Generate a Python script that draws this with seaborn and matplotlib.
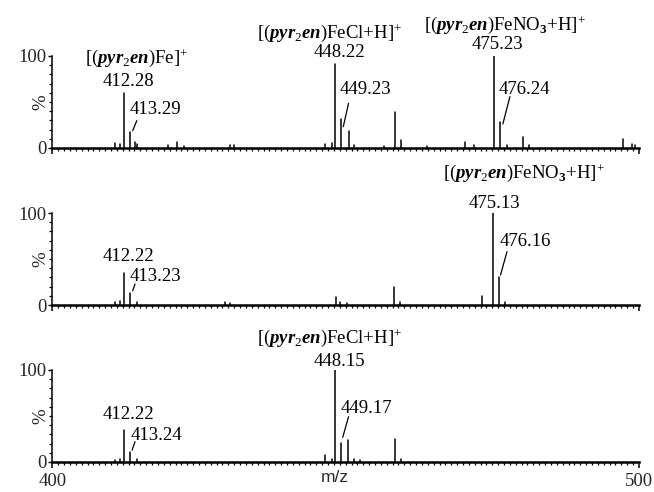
import numpy as np
import pandas as pd
import matplotlib
matplotlib.use("Agg")
import matplotlib.pyplot as plt
from matplotlib.ticker import MultipleLocator, FixedLocator
import seaborn as sns

# ---------------- data (m/z, relative intensity %) ----------------
p1_mz = [410.6, 411.5, 412.28, 413.29, 414.1, 414.5, 419.8, 421.2, 422.4, 430.3, 431.0,
         446.5, 447.6, 448.22, 449.23, 450.5, 451.4, 456.5, 458.4, 459.4, 463.8, 470.3,
         471.9, 475.23, 476.24, 477.5, 480.3, 481.2, 497.3, 498.8, 499.3]
p1_int = [5, 4, 60, 17, 7, 4, 3, 7, 2, 3, 3,
          4, 5, 91, 31, 18, 3, 2, 39, 9, 2, 7,
          3, 100, 28, 3, 12, 3, 10, 4, 3]

p2_mz = [410.6, 411.5, 412.22, 413.23, 414.5, 429.5, 430.3,
         448.3, 449.0, 450.2, 458.2, 459.3, 473.3, 475.13, 476.16, 477.2]
p2_int = [3, 4, 35, 13, 3, 3, 2,
          9, 3, 2, 20, 3, 10, 100, 31, 3]

p3_mz = [410.6, 411.5, 412.22, 413.24, 414.5, 446.4, 447.6, 448.15, 449.17, 450.4,
         451.4, 452.5, 458.4, 459.4]
p3_int = [2, 3, 35, 11, 3, 8, 3, 100, 21, 24,
          3, 2, 25, 3]

# annotations: (text, x, y) in data coordinates of each panel
FE = r"[($\mathit{pyr}_{\mathit{2}}\mathit{en}$)Fe]$^{+}$"
FECL = r"[($\mathit{pyr}_{\mathit{2}}\mathit{en}$)FeCl+H]$^{+}$"
FENO3 = r"[($\mathit{pyr}_{\mathit{2}}\mathit{en}$)FeNO$_{\mathbf{3}}$+H]$^{+}$"

p1_labels = [(FE, 414.4, 97.8), ("412.28", 412.9, 72.8), ("413.29", 417.6, 41.3),
             (FECL, 447.3, 125.0), ("448.22", 448.9, 103.3), ("449.23", 453.3, 64.1),
             (FENO3, 477.2, 133.7), ("475.23", 475.8, 112.0), ("476.24", 480.4, 64.1)]
p1_leaders = [((414.4, 29.7), (413.7, 18.8)), ((450.5, 48.6), (449.6, 23.2)),
              ((478.0, 55.8), (476.8, 26.1))]

p2_labels = [("412.22", 412.9, 52.5), ("413.23", 417.6, 30.8),
             (FENO3, 480.4, 143.5), ("475.13", 475.3, 110.9), ("476.16", 480.6, 68.8)]
p2_leaders = [((414.1, 22.8), (413.7, 15.5)), ((477.5, 58.0), (476.4, 32.6))]

p3_labels = [(FECL, 447.3, 134.8), ("448.15", 448.9, 109.0), ("449.17", 453.6, 58.4),
             ("412.22", 412.9, 51.1), ("413.24", 417.7, 29.3)]
p3_leaders = [((450.5, 49.2), (449.5, 26.8)), ((414.1, 22.1), (413.6, 13.0))]

panels = [(p1_mz, p1_int, p1_labels, p1_leaders),
          (p2_mz, p2_int, p2_labels, p2_leaders),
          (p3_mz, p3_int, p3_labels, p3_leaders)]

# ---------------- style ----------------
sns.set_theme(style="ticks")
plt.rcParams["font.family"] = ["Liberation Serif", "DejaVu Serif"]
plt.rcParams["mathtext.fontset"] = "custom"
plt.rcParams["mathtext.rm"] = "Liberation Serif"
plt.rcParams["mathtext.it"] = "Liberation Serif:italic:bold"
plt.rcParams["mathtext.bf"] = "Liberation Serif:bold"

FS = 13.5
fig = plt.figure(figsize=(6.54, 4.92), dpi=100)
left, width, height = 0.080, 0.897, 0.187
bottoms = [0.6992, 0.380, 0.061]

for i, (mz, inten, labels, leaders) in enumerate(panels):
    ax = fig.add_axes([left, bottoms[i], width, height])
    rows = []
    for k, (m, h) in enumerate(zip(mz, inten)):
        rows.append({"mz": m, "y": 0.0, "pid": k})
        rows.append({"mz": m, "y": h, "pid": k})
    df = pd.DataFrame(rows)
    sns.lineplot(data=df, x="mz", y="y", units="pid", estimator=None, sort=False,
                 color="black", lw=1.1, ax=ax, legend=False)

    ax.set_xlim(400, 500)
    ax.set_ylim(0, 100)
    for s in ["top", "right"]:
        ax.spines[s].set_visible(False)
    ax.spines["bottom"].set_linewidth(1.8)
    ax.spines["left"].set_linewidth(1.1)
    ax.spines["bottom"].set_color("black")
    ax.spines["left"].set_color("black")

    ax.xaxis.set_major_locator(FixedLocator([400, 500]))
    ax.xaxis.set_minor_locator(MultipleLocator(1))
    ax.yaxis.set_major_locator(FixedLocator([0, 100]))
    ax.yaxis.set_minor_locator(MultipleLocator(10))
    ax.tick_params(axis="x", which="major", direction="out", length=4, width=1.1,
                   color="black", labelsize=FS, pad=4)
    ax.tick_params(axis="x", which="minor", direction="out", length=2.5, width=0.9,
                   color="black")
    ax.tick_params(axis="y", which="major", direction="out", length=3, width=1.0,
                   color="black", labelsize=FS, pad=1)
    ax.tick_params(axis="y", which="minor", direction="out", length=2, width=0.9,
                   color="black")
    if i < 2:
        ax.set_xticklabels([])
        ax.set_xlabel("")
    else:
        ax.set_xticklabels(["400", "500"])
        ax.set_xlabel("m/z", fontsize=12.5, family="Liberation Sans")
        ax.xaxis.set_label_coords(0.482, -0.085)
        ax.xaxis.label.set_va("top")
    ax.set_ylabel("%", fontsize=FS)
    ax.yaxis.set_label_coords(-0.019, 0.5)
    ax.yaxis.label.set_va("center")

    for txt, x, y in labels:
        ax.text(x, y, txt, fontsize=FS, ha="center", va="center", clip_on=False,
                color="black")
    for (x0, y0), (x1, y1) in leaders:
        ax.plot([x0, x1], [y0, y1], color="black", lw=0.9, clip_on=False)

fig.savefig("out.png", dpi=100)
